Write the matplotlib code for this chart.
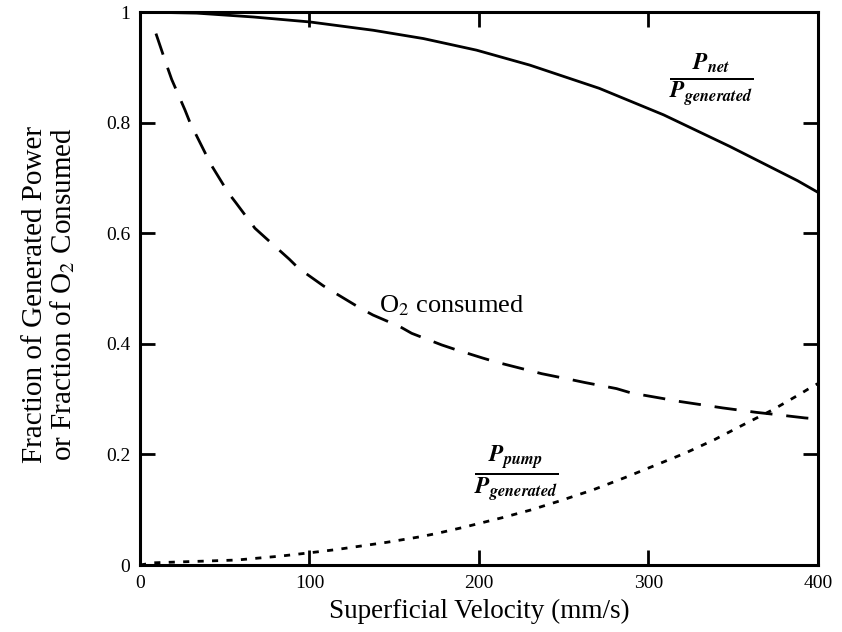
import numpy as np
import matplotlib.pyplot as plt

plt.rcParams['font.family'] = ['Liberation Serif', 'DejaVu Serif']
plt.rcParams['mathtext.fontset'] = 'stix'

# net power fraction (solid)
v_net = [0, 33.4, 66.9, 100.3, 137.6, 167.2, 198.6, 230, 271, 309, 348, 388, 400]
p_net = [1.0, 0.998, 0.991, 0.982, 0.967, 0.952, 0.931, 0.904, 0.862, 0.814,
         0.757, 0.695, 0.674]

# fraction of O2 consumed (long dashes)
v_o2 = [9.4, 15.7, 18.7, 26.5, 29.5, 38.3, 41.7, 52.1, 56.6, 67.8, 74.3, 88.1,
        93.4, 108.1, 115.6, 130.2, 137.5, 153.4, 160.3, 178, 185.8, 202.5, 211.4,
        228.1, 237, 254.7, 262.5, 281.2, 290, 308.7, 315.6, 335.3, 344, 363.8,
        372.6, 392.3, 400]
o2 = [0.961, 0.904, 0.878, 0.823, 0.800, 0.746, 0.725, 0.673, 0.655, 0.609,
      0.591, 0.553, 0.537, 0.505, 0.491, 0.464, 0.452, 0.431, 0.419, 0.398,
      0.390, 0.374, 0.366, 0.353, 0.346, 0.335, 0.330, 0.319, 0.311, 0.301,
      0.297, 0.288, 0.284, 0.276, 0.273, 0.266, 0.264]

# pumping power fraction (short dashes)
v_pump = [0, 8, 57, 82.6, 99.9, 116, 145.5, 165.2, 175, 190.7, 214.3, 230,
          247.8, 267.4, 286.1, 303.8, 321.5, 339.2, 356.9, 373.6, 389.4, 395.3, 400]
p_pump = [0.0, 0.004, 0.009, 0.016, 0.022, 0.028, 0.041, 0.051, 0.057, 0.068,
          0.086, 0.099, 0.116, 0.136, 0.158, 0.180, 0.202, 0.227, 0.255, 0.281,
          0.309, 0.320, 0.328]

x_ticks = [0, 100, 200, 300, 400]
y_ticks = [0, 0.2, 0.4, 0.6, 0.8, 1]
y_ticklabels = ['0', '0.2', '0.4', '0.6', '0.8', '1']

fig = plt.figure(figsize=(8.42, 6.32), dpi=100)
ax = fig.add_axes([0.1663, 0.106, 0.805, 0.875])

ax.plot(v_net, p_net, color='black', lw=2.0, solid_capstyle='butt')
ax.plot(v_o2, o2, color='black', lw=2.0, dashes=(8, 5))
ax.plot(v_pump, p_pump, color='black', lw=2.0, dashes=(2.2, 3))

ax.set_xlim(0, 400)
ax.set_ylim(0, 1)
ax.set_xticks(x_ticks)
ax.set_yticks(y_ticks)
ax.set_yticklabels(y_ticklabels)

for s in ax.spines.values():
    s.set_linewidth(2.2)
ax.tick_params(direction='in', length=11, width=2, top=True, right=True,
               labelsize=14, pad=7)

ax.set_xlabel('Superficial Velocity (mm/s)', fontsize=19.5, labelpad=5)
ax.set_ylabel('Fraction of Generated Power\nor Fraction of O$_2$ Consumed',
              fontsize=21, linespacing=1.0)
ax.yaxis.set_label_coords(-0.093, 0.49)

ax.text(337, 0.876, r'$\frac{\mathbfit{P}_{\mathbfit{net}}}{\mathbfit{P}_{\mathbfit{generated}}}$',
        fontsize=24, ha='center', va='center')
ax.text(222, 0.166, r'$\frac{\mathbfit{P}_{\mathbfit{pump}}}{\mathbfit{P}_{\mathbfit{generated}}}$',
        fontsize=24, ha='center', va='center')
ax.text(141, 0.456, 'O$_2$ consumed', fontsize=19, ha='left', va='baseline')

fig.savefig('out.png', dpi=100)
